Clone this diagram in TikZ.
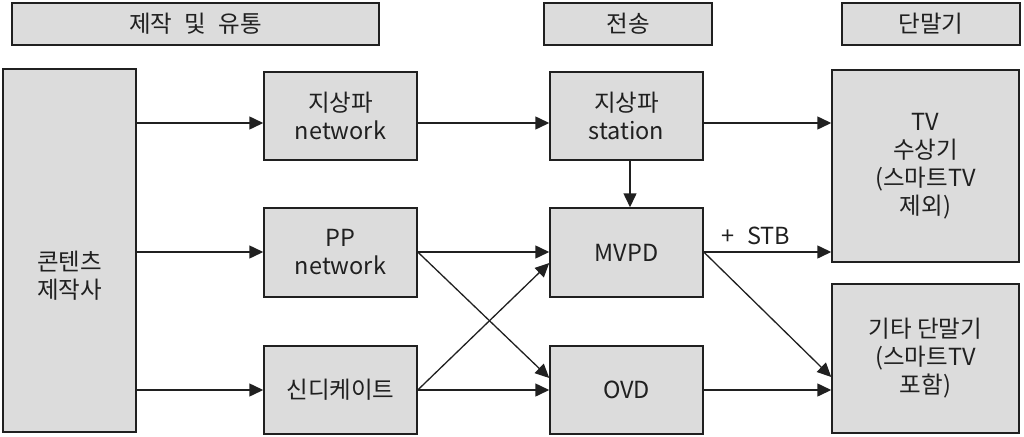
\documentclass[tikz,border=0pt]{standalone}
\usepackage{fontspec}
\setmainfont{Noto Sans CJK KR}
\usetikzlibrary{arrows.meta}
\definecolor{boxfill}{HTML}{DCDCDC}
\definecolor{ink}{HTML}{202020}
\tikzset{
  box/.style={draw=ink, fill=boxfill, line width=1.5pt, inner sep=0pt, align=center,
    font=\fontsize{23.5}{28}\selectfont, text=ink},
  hdr/.style={box, minimum height=42pt},
  arr/.style={draw=ink, line width=1.5pt, -{Triangle[length=14pt,width=13pt]}},
  darr/.style={draw=ink, line width=1.3pt, -{Triangle[length=14pt,width=13pt]}},
  lbl/.style={font=\fontsize{23.5}{28}\selectfont, text=ink, align=center}
}
\begin{document}
\begin{tikzpicture}[x=1pt,y=-1pt]
\useasboundingbox (0,0) rectangle (1024,436);
% headers
\node[hdr, minimum width=367pt] (h1) at (195.5,24) {제작\hspace{0.3em} 및\hspace{0.3em} 유통};
\node[hdr, minimum width=168pt] (h2) at (628,24) {전송};
\node[hdr, minimum width=178pt] (h3) at (931,24) {단말기};
% boxes
\node[box, minimum width=133pt, minimum height=363pt,
  label={[lbl, yshift=-25pt]center:{콘텐츠\\제작사}}] (cp) at (69.5,250.5) {};
\node[box, minimum width=153pt, minimum height=88pt] (gnet) at (340.5,116) {지상파\\network};
\node[box, minimum width=153pt, minimum height=89pt] (pp) at (340.5,252.5) {PP\\network};
\node[box, minimum width=153pt, minimum height=88pt] (syn) at (340.5,390) {신디케이트};
\node[box, minimum width=153pt, minimum height=88pt] (st) at (626.5,116) {지상파\\station};
\node[box, minimum width=153pt, minimum height=89pt] (mvpd) at (626.5,252.5) {MVPD};
\node[box, minimum width=153pt, minimum height=88pt] (ovd) at (626.5,390) {OVD};
\node[box, minimum width=187pt, minimum height=192pt] (tv) at (925.5,166) {TV\\수상기\\(스마트TV\\제외)};
\node[box, minimum width=187pt, minimum height=149pt] (etc) at (925.5,358.5) {기타 단말기\\(스마트TV\\포함)};
% connectors
\draw[arr] (cp.east |- 0,123) -- (gnet.west |- 0,123);
\draw[arr] (cp.east |- 0,252) -- (pp.west |- 0,252);
\draw[arr] (cp.east |- 0,390) -- (syn.west |- 0,390);
\draw[arr] (gnet.east |- 0,123) -- (st.west |- 0,123);
\draw[arr] (st.east |- 0,123) -- (tv.west |- 0,123);
\draw[arr] (st.south -| 630,0) -- (mvpd.north -| 630,0);
\draw[arr] (pp.east |- 0,252) -- (mvpd.west |- 0,252);
\draw[darr] (pp.east |- 0,252) -- (ovd.west |- 0,378);
\draw[darr] (syn.east |- 0,390) -- (mvpd.west |- 0,263);
\draw[arr] (syn.east |- 0,390) -- (ovd.west |- 0,390);
\draw[arr] (mvpd.east |- 0,252) -- node[lbl, above=3pt, pos=0.41] (stb) {+\hspace{0.3em} STB} (tv.west |- 0,252);
\draw[darr] (mvpd.east |- 0,252) -- (etc.west |- 0,377);
\draw[arr] (ovd.east |- 0,390) -- (etc.west |- 0,390);
\end{tikzpicture}
\end{document}
